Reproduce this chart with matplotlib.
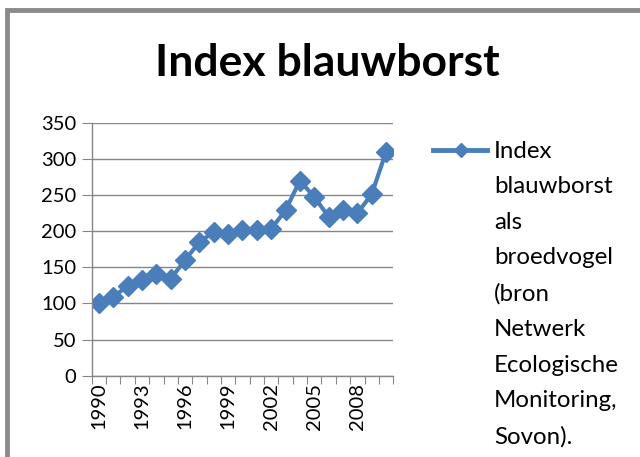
import matplotlib
matplotlib.use("Agg")
from matplotlib import pyplot as plt
from matplotlib.lines import Line2D
from matplotlib.patches import Rectangle

# data
years = list(range(1990, 2011))
index_values = [100, 109, 124, 132, 141, 134, 160, 185, 199, 196, 201, 201,
                203, 229, 270, 247, 220, 229, 225, 251, 310]
tick_years = [1990, 1993, 1996, 1999, 2002, 2005, 2008]
y_ticks = [0, 50, 100, 150, 200, 250, 300, 350]
title = "Index blauwborst"
legend_label = "Index\nblauwborst\nals\nbroedvogel\n(bron\nNetwerk\nEcologische\nMonitoring,\nSovon)."

blue = "#4A7EBB"
grey = "#868686"
plt.rcParams["font.family"] = ["Lato", "DejaVu Sans"]

fig = plt.figure(figsize=(6.4, 4.57), dpi=100)
ax = fig.add_axes([0.1433, 0.178, 0.4712, 0.5535])

x = list(range(len(years)))
ax.plot(x, index_values, color=blue, lw=3, marker="D", markersize=10,
        markeredgecolor=blue, markerfacecolor=blue)

ax.set_ylim(0, 350)
ax.set_yticks(y_ticks)
ax.set_xlim(-0.5, len(years) - 0.5)
# tick marks between categories, labels on the categories
ax.set_xticks([i - 0.5 for i in range(len(years) + 1)])
ax.set_xticklabels([])
ax.set_xticks([years.index(y) for y in tick_years], minor=True)
ax.set_xticklabels([str(y) for y in tick_years], minor=True, rotation=90)
ax.tick_params(axis="x", which="major", length=6, color=grey, direction="out")
ax.tick_params(axis="x", which="minor", length=0, pad=5, labelsize=14.5)
ax.tick_params(axis="y", length=7, color=grey, labelsize=14.5, pad=4)

ax.grid(axis="y", color=grey, lw=1)
ax.set_axisbelow(True)
for s in ["top", "right"]:
    ax.spines[s].set_visible(False)
for s in ["left", "bottom"]:
    ax.spines[s].set_color(grey)
    ax.spines[s].set_linewidth(1)

fig.text(0.511, 0.862, title, ha="center", va="center", fontsize=32,
         fontweight="bold")

# legend drawn by hand so the marker sits next to the first line
fig.add_artist(Line2D([433 / 640, 487 / 640], [1 - 150 / 457, 1 - 150 / 457],
                      color=blue, lw=3.5, transform=fig.transFigure))
fig.add_artist(Line2D([461 / 640], [1 - 150 / 457], color=blue, marker="D",
                      markersize=7, transform=fig.transFigure))
fig.text(494 / 640, 1 - 141 / 457, legend_label, ha="left", va="top",
         fontsize=17.3, linespacing=1.85)

# chart area border
fig.add_artist(Rectangle((7 / 640, -0.1), 1.2, 1 - 10 / 457 + 0.1,
                         fill=False, edgecolor="#8A8A8A", lw=3.5,
                         transform=fig.transFigure))

fig.savefig("out.png", dpi=100)
